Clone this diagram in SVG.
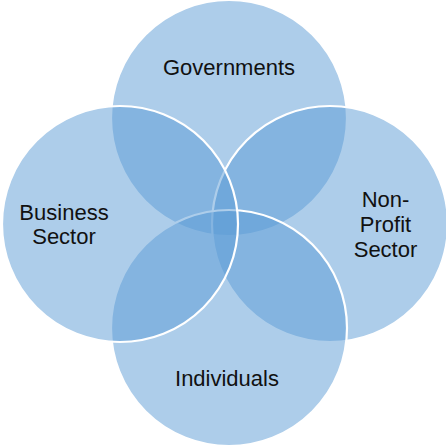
<svg xmlns="http://www.w3.org/2000/svg" width="446" height="447" viewBox="0 0 446 447">
<style>
.c{fill:#5B9BD5;fill-opacity:0.5;stroke:#ffffff;stroke-width:2.2}
.t{font-family:"Liberation Sans",Arial,sans-serif;font-size:22px;fill:#111111;text-anchor:middle}
</style>
<rect width="446" height="447" fill="#ffffff"/>
<g id="governments">
<circle class="c" cx="229" cy="118" r="118"/>
<text class="t" x="229" y="75">Governments</text>
</g>
<g id="non-profit-sector">
<circle class="c" cx="330" cy="224" r="118"/>
<text class="t" x="385.5" y="207">Non-</text>
<text class="t" x="385.5" y="232">Profit</text>
<text class="t" x="385.5" y="257">Sector</text>
</g>
<g id="individuals">
<circle class="c" cx="229" cy="328" r="118"/>
<text class="t" x="227" y="386">Individuals</text>
</g>
<g id="business-sector">
<circle class="c" cx="120" cy="224" r="118"/>
<text class="t" x="64" y="220">Business</text>
<text class="t" x="64" y="244">Sector</text>
</g>
<g id="connectors"></g>
</svg>
